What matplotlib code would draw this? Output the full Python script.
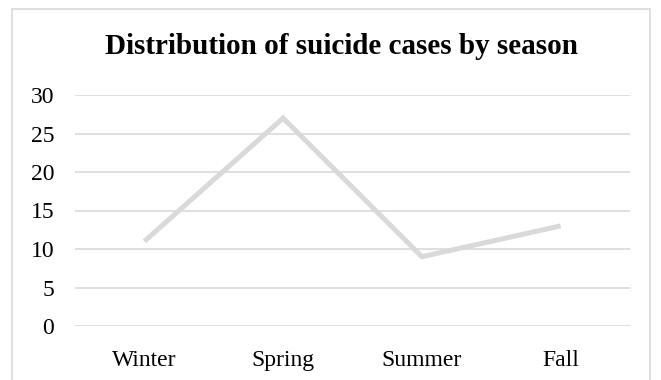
import matplotlib
matplotlib.use("Agg")
import matplotlib.pyplot as plt
from matplotlib.patches import Rectangle

seasons = ["Winter", "Spring", "Summer", "Fall"]
cases = [11, 27, 9, 13]
y_ticks = [0, 5, 10, 15, 20, 25, 30]

plt.rcParams["font.family"] = ["Liberation Serif", "DejaVu Serif"]

W, H = 661, 380
fig = plt.figure(figsize=(W / 100, H / 100), dpi=100)

# chart frame (open at the bottom edge)
fig.patches.append(Rectangle((11.5 / W, -0.05), (650 - 11.5) / W, 1.05 - 8.5 / H,
                             transform=fig.transFigure, fill=False,
                             edgecolor="#d9d9d9", linewidth=1.2))

ax = fig.add_axes([75 / W, 1 - 326 / H, (630 - 75) / W, (326 - 95) / H])
x = list(range(len(seasons)))
ax.plot(x, cases, color="#d9d9d9", linewidth=3.6, solid_capstyle="butt",
        solid_joinstyle="miter", zorder=3)

ax.set_xlim(-0.5, len(seasons) - 0.5)
ax.set_ylim(0, 30)
ax.set_yticks(y_ticks)
ax.set_xticks(x)
ax.set_xticklabels(seasons)
ax.tick_params(axis="both", length=0, labelsize=17, colors="black")
ax.tick_params(axis="y", pad=15)
ax.tick_params(axis="x", pad=17)
ax.grid(axis="y", color="#d9d9d9", linewidth=1.2)
ax.set_axisbelow(True)
for s in ax.spines.values():
    s.set_visible(False)

fig.text(342 / W, 1 - 47 / H, "Distribution of suicide cases by season",
         ha="center", va="center", fontsize=21, fontweight="bold")

fig.savefig("out.png", dpi=100)
